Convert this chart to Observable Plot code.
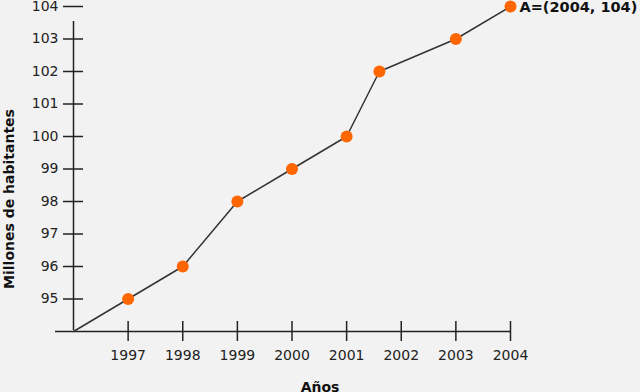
<!DOCTYPE html>
<html><head><meta charset="utf-8">
<script src="https://cdn.jsdelivr.net/npm/d3@7"></script>
<script src="https://cdn.jsdelivr.net/npm/@observablehq/plot@0.6"></script>
<style>html,body{margin:0;padding:0;background:#f2f2f2;overflow:hidden}</style>
</head><body><div id="chart"></div>
<script>
const originYear = 1996;
const originValue = 94;
const years = [1997, 1998, 1999, 2000, 2001, 2001.6, 2003, 2004];
const values = [95, 96, 98, 99, 100, 102, 103, 104];
const xTicks = [1997, 1998, 1999, 2000, 2001, 2002, 2003, 2004];
const yTicks = [95, 96, 97, 98, 99, 100, 101, 102, 103, 104];
const annotation = "A=(2004, 104)";
const xLabel = "Años";
const yLabel = "Millones de habitantes";

const pts = years.map((x, i) => ({x, y: values[i]}));
const linePts = [{x: originYear, y: originValue}, ...pts];
const axisColor = "#222";

const chart = Plot.plot({
  width: 640, height: 392,
  marginLeft: 73, marginRight: 130, marginTop: 6, marginBottom: 61,
  x: {domain: [originYear, xTicks[xTicks.length - 1]]},
  y: {domain: [originValue, yTicks[yTicks.length - 1]]},
  style: {background: "#f2f2f2", fontFamily: "DejaVu Sans, Verdana, sans-serif", fontSize: "14px", color: "#222", overflow: "visible"},
  marks: [
    Plot.ruleY([originValue], {x1: originYear, x2: xTicks[xTicks.length - 1], insetLeft: -18, stroke: axisColor, strokeWidth: 1.5}),
    Plot.ruleX([originYear], {y1: originValue, y2: yTicks[yTicks.length - 1], insetBottom: -15, insetTop: -1, stroke: axisColor, strokeWidth: 1.5}),
    Plot.axisX(xTicks, {tickSize: 20, dy: -10, tickPadding: 9, label: null, tickFormat: d => String(d), stroke: axisColor, strokeWidth: 1.5, fill: "#222"}),
    Plot.axisY(yTicks, {tickSize: 20, dx: 10, tickPadding: 5, label: null, tickFormat: d => String(d), stroke: axisColor, strokeWidth: 1.5, fill: "#222"}),
    Plot.line(linePts, {x: "x", y: "y", stroke: "#333", strokeWidth: 1.5}),
    Plot.dot(pts, {x: "x", y: "y", r: 6, fill: "#ff6600", stroke: "none"}),
    Plot.text(pts.slice(-1), {x: "x", y: "y", text: () => annotation, textAnchor: "start", dx: 9, dy: 1, fontWeight: "bold", fontSize: 14.5, fill: "#111"}),
    Plot.text([xLabel], {frameAnchor: "bottom", text: d => d, dx: 28, dy: 56, fontWeight: "bold", textAnchor: "middle", lineAnchor: "middle", fill: "#111"}),
    Plot.text([yLabel], {frameAnchor: "left", text: d => d, rotate: -90, dx: -64, dy: 30, fontWeight: "bold", textAnchor: "middle", lineAnchor: "middle", fill: "#111"})
  ]
});
document.getElementById("chart").appendChild(chart);
</script>
</body></html>
